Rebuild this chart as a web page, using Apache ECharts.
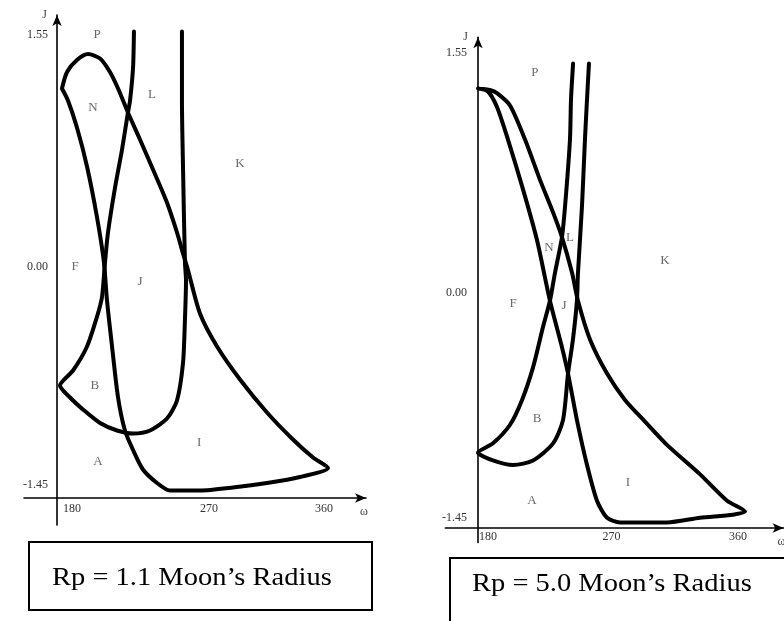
<!DOCTYPE html>
<html>
<head>
<meta charset="utf-8">
<script src="https://cdn.jsdelivr.net/npm/echarts@6/dist/echarts.min.js"></script>
<style>html,body{margin:0;padding:0;background:#fff}#c{width:784px;height:621px}</style>
</head>
<body>
<div id="c"></div>
<script>
// ---------- data (omega in degrees, J) ----------
const xTicks = [180, 270, 360];
const yTicks = [-1.45, 0, 1.55];

// Rp = 1.1 Moon's radius
const leftLoop = [
  [183.3,1.19],[186.7,1.30],[193.3,1.38],[200.7,1.42],[208.7,1.39],[215.3,1.30],[220.7,1.19],
  [227.3,1.03],[235.3,0.85],[244.0,0.65],[253.3,0.43],[260.0,0.23],[264.0,0.09],[267.3,-0.02],
  [275.3,-0.31],[286.7,-0.53],[302.0,-0.75],[320.0,-0.97],[337.3,-1.15],[350.7,-1.27],[360.7,-1.34],
  [342.0,-1.40],[320.0,-1.44],[297.3,-1.47],[275.3,-1.49],[255.3,-1.49],[246.7,-1.44],[237.3,-1.35],
  [230.7,-1.22],[225.3,-1.09],[220.7,-0.87],[216.7,-0.53],[213.3,-0.22],[211.3,0.03],[206.7,0.33],
  [200.0,0.67],[193.3,0.93],[187.3,1.11],[183.3,1.19]
];
const leftCurve = [
  [231.3,1.57],[230.7,1.33],[228.7,1.11],[227.3,1.03],[223.3,0.78],[218.7,0.53],[214.0,0.23],
  [212.0,0.03],[210.0,-0.20],[206.7,-0.33],[200.0,-0.53],[190.7,-0.69],[182.0,-0.79],[188.7,-0.87],
  [197.3,-0.95],[208.7,-1.04],[220.0,-1.09],[230.7,-1.11],[242.0,-1.09],[253.3,-1.01],[260.0,-0.89],
  [264.0,-0.64],[265.3,-0.35],[266.0,-0.09],[265.3,0.03],[264.0,0.67],[263.3,1.11],[263.3,1.57]
];
const leftLabels = [
  ['P',206.7,1.55],['N',204.0,1.06],['L',243.3,1.15],['K',302.0,0.69],['F',192.0,0.00],
  ['J',235.3,-0.10],['B',205.3,-0.79],['A',207.3,-1.30],['I',274.7,-1.17]
];

// Rp = 5.0 Moon's radius
const rightLoop = [
  [180.0,1.32],[188.1,1.31],[192.8,1.29],[201.6,1.21],[211.7,0.99],[221.8,0.73],[230.6,0.52],
  [236.6,0.36],[243.4,0.13],[247.4,-0.05],[255.5,-0.30],[267.0,-0.52],[279.1,-0.69],[292.6,-0.83],
  [307.4,-0.98],[329.7,-1.17],[347.9,-1.34],[360.0,-1.41],[351.9,-1.43],[329.7,-1.45],[307.4,-1.48],
  [284.5,-1.48],[275.7,-1.48],[267.0,-1.45],[260.2,-1.34],[253.5,-1.11],[246.7,-0.82],[240.7,-0.52],
  [236.6,-0.35],[228.5,-0.05],[219.8,0.34],[210.3,0.67],[200.2,0.99],[192.8,1.20],[186.7,1.30],[180.0,1.32]
];
const rightCurve = [
  [244.1,1.48],[242.7,1.25],[242.0,0.99],[238.7,0.56],[236.6,0.36],[231.9,0.13],[228.5,-0.05],
  [223.8,-0.22],[217.1,-0.48],[209.7,-0.69],[201.6,-0.85],[190.1,-0.97],[180.0,-1.03],[190.1,-1.08],
  [203.6,-1.11],[217.1,-1.08],[230.6,-0.97],[237.3,-0.82],[240.7,-0.52],[244.0,-0.30],[246.7,-0.05],
  [247.4,0.13],[250.1,0.56],[252.1,0.99],[253.5,1.25],[254.8,1.48]
];
const rightLabels = [
  ['P',218.4,1.42],['N',227.9,0.29],['L',242.0,0.36],['K',306.1,0.21],['F',203.6,-0.07],
  ['J',238.0,-0.08],['B',219.8,-0.81],['A',216.4,-1.34],['I',281.1,-1.22]
];

const captions = ['Rp = 1.1 Moon\u2019s Radius', 'Rp = 5.0 Moon\u2019s Radius'];

// ---------- chart ----------
const SERIF = '"Liberation Serif", "DejaVu Serif", serif';
const chart = echarts.init(document.getElementById('c'), null, {renderer: 'canvas'});

function xAxisCfg(gridIndex, offset, margin, pads) {
  return {
    type: 'value', gridIndex, min: 158, max: 386, position: 'bottom', offset,
    name: '\u03c9', nameLocation: 'end', nameGap: -6,
    nameTextStyle: {fontFamily: SERIF, fontSize: 12, color: '#444', align: 'left', verticalAlign: 'top', padding: [8,0,0,0]},
    axisLine: {show: true, onZero: false, symbol: ['none', 'arrow'], symbolSize: [7, 11], lineStyle: {color: '#000', width: 1.6}},
    axisTick: {show: false}, splitLine: {show: false},
    axisLabel: {
      show: true, customValues: xTicks, margin, hideOverlap: false,
      fontFamily: SERIF, fontSize: 12, color: '#333',
      formatter: v => '{v' + Math.round(v) + '|' + Math.round(v) + '}',
      rich: {
        v180: {fontFamily: SERIF, fontSize: 12, color: '#333', padding: pads[0]},
        v270: {fontFamily: SERIF, fontSize: 12, color: '#333', padding: pads[1]},
        v360: {fontFamily: SERIF, fontSize: 12, color: '#333', padding: pads[2]}
      }
    }
  };
}
function yAxisCfg(gridIndex, min, max, offset, margin) {
  return {
    type: 'value', gridIndex, min, max, position: 'left', offset,
    name: 'J', nameLocation: 'end', nameGap: 0,
    nameTextStyle: {fontFamily: SERIF, fontSize: 12, color: '#444', align: 'right', verticalAlign: 'middle', padding: [0,10,0,0]},
    axisLine: {show: true, onZero: false, symbol: ['none', 'arrow'], symbolSize: [7, 11], lineStyle: {color: '#000', width: 1.6}},
    axisTick: {show: false}, splitLine: {show: false},
    axisLabel: {show: true, customValues: yTicks, margin, hideOverlap: false,
      fontFamily: SERIF, fontSize: 12, color: '#333', formatter: v => v.toFixed(2)}
  };
}
function curve(data, gi) {
  return {type: 'line', xAxisIndex: gi, yAxisIndex: gi, data, showSymbol: false, symbol: 'none',
    smooth: 0.25, silent: true, clip: false, z: 3,
    lineStyle: {color: '#000', width: 4, join: 'round', cap: 'round'}};
}
function labels(list, gi) {
  return {type: 'scatter', xAxisIndex: gi, yAxisIndex: gi, silent: true, symbolSize: 1,
    itemStyle: {color: 'transparent'},
    data: list.map(d => ({name: d[0], value: [d[1], d[2]]})),
    label: {show: true, position: 'inside', formatter: '{b}', fontFamily: SERIF, fontSize: 13, color: '#444'}};
}

const kL = 1.5, kR = 267 / 180;
const option = {
  animation: false,
  backgroundColor: '#fff',
  grid: [
    {left: 57 - 22 * kL, top: 15, width: 228 * kL, height: 510, outerBoundsMode: 'none', containLabel: false},
    {left: 478 - 22 * kR, top: 293 - 1.65 * 155, width: 228 * kR, height: 3.26 * 155, outerBoundsMode: 'none', containLabel: false}
  ],
  xAxis: [
    xAxisCfg(0, -27, 5, [[0,0,0,30],[0,0,0,34],[0,6,0,0]]),
    xAxisCfg(1, -(293 + 1.61 * 155 - 528), 3, [[0,0,0,20],[0,0,0,0],[0,14,0,0]])
  ],
  yAxis: [
    yAxisCfg(0, -1.72, 1.68, -33, 9),
    yAxisCfg(1, -1.61, 1.65, -22 * kR, 11)
  ],
  series: [
    curve(leftLoop, 0), curve(leftCurve, 0), labels(leftLabels, 0),
    curve(rightLoop, 1), curve(rightCurve, 1), labels(rightLabels, 1)
  ],
  graphic: [
    {type: 'rect', shape: {x: 29, y: 542, width: 343, height: 68}, style: {fill: 'none', stroke: '#000', lineWidth: 2}},
    {type: 'rect', shape: {x: 450, y: 558, width: 345, height: 80}, style: {fill: 'none', stroke: '#000', lineWidth: 2}},
    {type: 'text', x: 52, y: 578, scaleX: 1.14, style: {text: captions[0], fontFamily: SERIF, fontSize: 25, fill: '#000', align: 'left', verticalAlign: 'middle'}},
    {type: 'text', x: 472, y: 584, scaleX: 1.14, style: {text: captions[1], fontFamily: SERIF, fontSize: 25, fill: '#000', align: 'left', verticalAlign: 'middle'}}
  ]
};
chart.setOption(option);
</script>
</body>
</html>
